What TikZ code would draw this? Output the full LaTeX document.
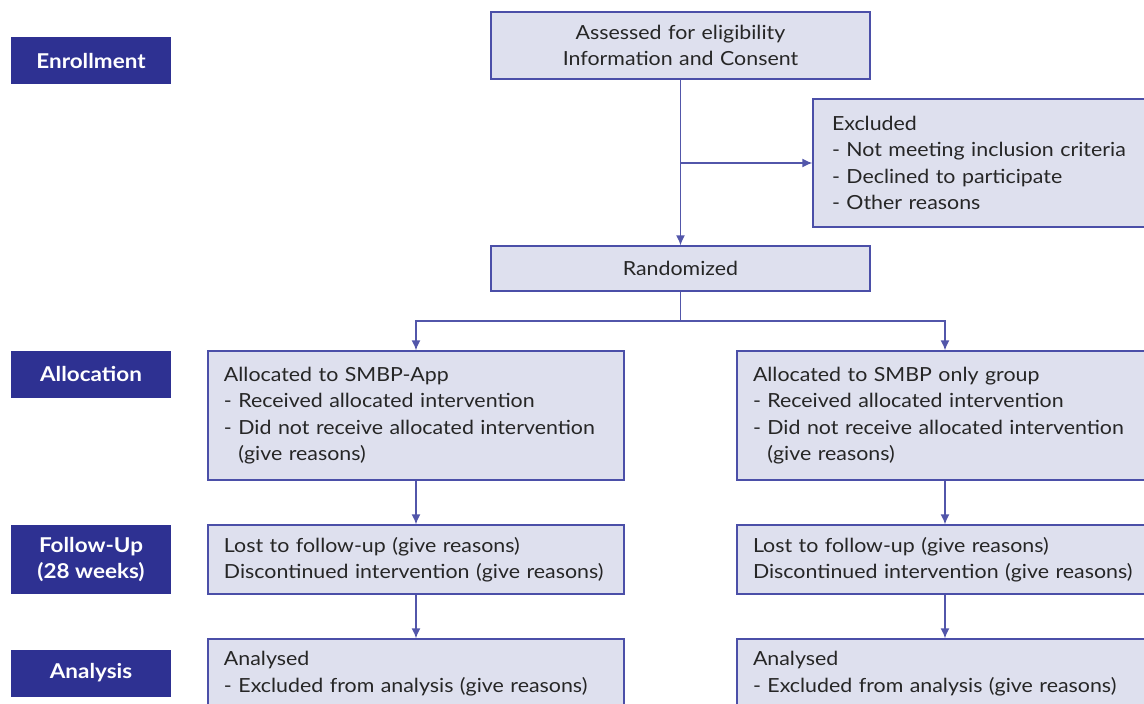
\documentclass[tikz,border=0pt]{standalone}
\usepackage{fontspec}
\setmainfont{Lato}[FakeStretch=1.1]
\usetikzlibrary{arrows.meta}
\definecolor{stageblue}{HTML}{2E3192}
\definecolor{boxfill}{HTML}{DEE0EE}
\definecolor{boxline}{HTML}{4B4FA8}
\definecolor{flowline}{HTML}{5256AA}
\begin{document}
\begin{tikzpicture}[x=1bp,y=-1bp,>={Latex[length=10bp,width=9bp]},line width=1.4bp,
  stagebox/.style={fill=stageblue,text=white,font=\bfseries\fontsize{20.5}{26}\selectfont,
    minimum width=160bp,align=center,inner sep=0pt},
  flowbox/.style={draw=boxline,fill=boxfill,text=black!85,font=\fontsize{19.5}{26.5}\selectfont,
    align=left,inner xsep=16bp,inner ysep=0pt},
]
\useasboundingbox (0,0) rectangle (1144,704);
\clip (0,0) rectangle (1144,704);
\def\colL{416}
\def\colR{945}
\def\colM{680.5}
\def\flowarrow#1#2{
\draw[->,draw=flowline] #1 -- #2;
}
% stage labels on the left
\node[stagebox,minimum height=47bp] (enroll) at (91,60.5) {Enrollment};
\node[stagebox,minimum height=47bp] (alloc) at (91,374) {Allocation};
\node[stagebox,minimum height=69bp] (follow) at (91,559.5) {Follow-Up\\(28 weeks)};
\node[stagebox,minimum height=47bp] (analysis) at (91,673) {Analysis};
% enrollment
\node[flowbox,align=center,text width=347bp,minimum height=67bp] (assess) at (\colM,45.5)
  {Assessed for eligibility\\Information and Consent};
\node[flowbox,inner xsep=19bp,text width=309bp,minimum height=128bp] (excl) at (986.5,163)
  {Excluded\\- Not meeting inclusion criteria\\- Declined to participate\\- Other reasons};
\node[flowbox,align=center,text width=347bp,minimum height=45bp] (rand) at (\colM,268.5)
  {Randomized};
% allocation
\node[flowbox,text width=384bp,minimum height=129bp] (allocL) at (\colL,415.5)
  {Allocated to SMBP-App\\- Received allocated intervention\\- Did not receive allocated intervention\\\hphantom{- }(give reasons)};
\node[flowbox,text width=384bp,minimum height=129bp] (allocR) at (\colR,415.5)
  {Allocated to SMBP only group\\- Received allocated intervention\\- Did not receive allocated intervention\\\hphantom{- }(give reasons)};
% follow-up
\node[flowbox,text width=384bp,minimum height=69bp] (followL) at (\colL,559.5)
  {Lost to follow-up (give reasons)\\Discontinued intervention (give reasons)};
\node[flowbox,text width=384bp,minimum height=69bp] (followR) at (\colR,559.5)
  {Lost to follow-up (give reasons)\\Discontinued intervention (give reasons)};
% analysis
\node[flowbox,text width=384bp,minimum height=69bp] (anaL) at (\colL,673.5)
  {Analysed\\- Excluded from analysis (give reasons)};
\node[flowbox,text width=384bp,minimum height=69bp] (anaR) at (\colR,673.5)
  {Analysed\\- Excluded from analysis (give reasons)};
% connectors
\coordinate (split) at (assess.south |- excl.west);
\coordinate (fork) at (\colM,321);
\flowarrow{(assess.south)}{(rand.north)}
\flowarrow{(split)}{(excl.west)}
\draw[draw=flowline] (rand.south) -- (fork);
\draw[->,draw=flowline] (fork) -| (allocL.north);
\draw[->,draw=flowline] (fork) -| (allocR.north);
\flowarrow{(allocL.south)}{(followL.north)}
\flowarrow{(allocR.south)}{(followR.north)}
\flowarrow{(followL.south)}{(anaL.north)}
\flowarrow{(followR.south)}{(anaR.north)}
\end{tikzpicture}
\end{document}
